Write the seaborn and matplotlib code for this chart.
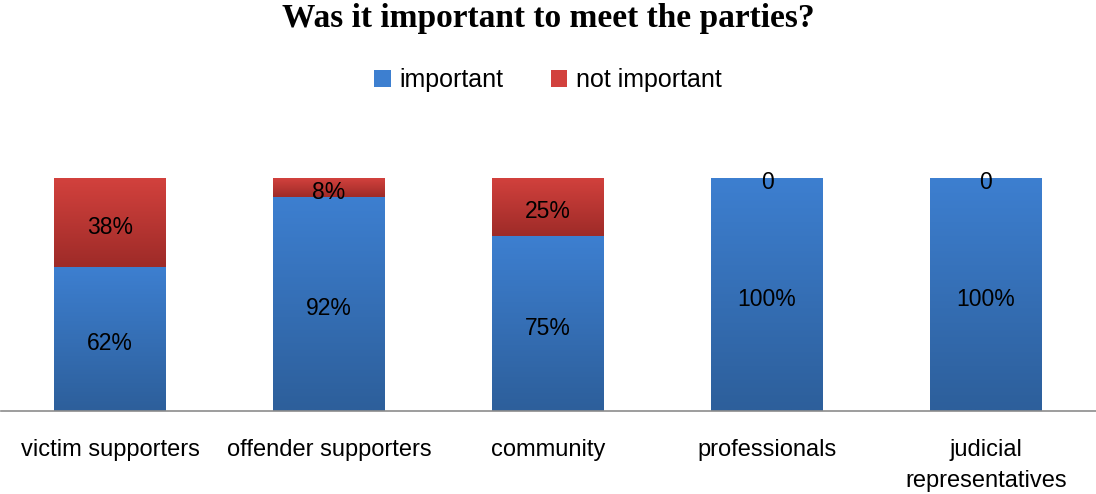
import numpy as np
import pandas as pd
import matplotlib
matplotlib.use("Agg")
import matplotlib.pyplot as plt
import seaborn as sns
from matplotlib.colors import to_rgb
from matplotlib.patches import Patch

categories = ["victim supporters", "offender supporters", "community",
              "professionals", "judicial\nrepresentatives"]
important = [62, 92, 75, 100, 100]
not_important = [38, 8, 25, 0, 0]

blue_top, blue_bot = "#3d7fd0", "#2d5f9b"
red_top, red_bot = "#d2413d", "#9e2b28"

sns.set_theme(style="white")
plt.rcParams["font.family"] = ["Liberation Sans", "DejaVu Sans"]
plt.rcParams["text.color"] = "black"
plt.rcParams["xtick.color"] = "black"

df = pd.DataFrame({"cat": categories, "imp": important, "notimp": not_important})
df["total"] = df["imp"] + df["notimp"]

fig = plt.figure(figsize=(10.96, 4.94), dpi=100)
ax = fig.add_axes([0.5 / 1096, 83 / 494, 1095 / 1096, 233 / 494])

# totals first (red), important on top (blue) -> stacked look
sns.barplot(data=df, x="cat", y="total", color=red_top, width=0.51,
            saturation=1, ax=ax, linewidth=0)
n = len(ax.patches)
sns.barplot(data=df, x="cat", y="imp", color=blue_top, width=0.51,
            saturation=1, ax=ax, linewidth=0)
red_patches = ax.patches[:n]
blue_patches = ax.patches[n:]


def gradient(patch, y0, y1, top, bot):
    if y1 <= y0:
        return
    x0 = patch.get_x()
    w = patch.get_width()
    t = np.linspace(0, 1, 64)[:, None]
    c0, c1 = np.array(to_rgb(bot)), np.array(to_rgb(top))
    img = (c0 + (c1 - c0) * t)[:, None, :].reshape(64, 1, 3)
    im = ax.imshow(img, extent=(x0, x0 + w, y0, y1), origin="lower",
                   aspect="auto", zorder=patch.get_zorder() + 0.5,
                   interpolation="bilinear")
    im.set_clip_path(patch)


def label(x, y, s):
    ax.annotate(s, (x, y), xytext=(0, -3.5), textcoords="offset points",
                ha="center", va="center", fontsize=16.5, color="black",
                zorder=10)


for i, (p_r, p_b) in enumerate(zip(red_patches, blue_patches)):
    gradient(p_r, df["imp"][i], df["total"][i], red_top, red_bot)
    gradient(p_b, 0, df["imp"][i], blue_top, blue_bot)
    xc = p_b.get_x() + p_b.get_width() / 2
    label(xc, df["imp"][i] / 2, f"{important[i]}%")
    v = not_important[i]
    label(xc, df["imp"][i] + v / 2, f"{v}%" if v else "0")

ax.set_xlim(-0.5, 4.5)
ax.set_ylim(0, 100)
ax.set_xlabel("")
ax.set_ylabel("")
ax.set_yticks([])
ax.tick_params(axis="x", length=0, pad=20, labelsize=17)
for lbl in ax.get_xticklabels():
    lbl.set_linespacing(1.55)
for s in ["top", "left", "right"]:
    ax.spines[s].set_visible(False)
ax.spines["bottom"].set_color("#8c8c8c")
ax.spines["bottom"].set_linewidth(1.2)

handles = [Patch(facecolor=blue_top, edgecolor="none", label="important"),
           Patch(facecolor=red_top, edgecolor="none", label="not important")]
fig.legend(handles=handles, loc="center", bbox_to_anchor=(0.5, 1 - 80 / 494),
           ncol=2, frameon=False, fontsize=18, handlelength=0.65,
           handleheight=0.65, handletextpad=0.35, columnspacing=1.9)

fig.text(0.5, 1 - 19 / 494, "Was it important to meet the parties?",
         ha="center", va="center", fontsize=24, fontweight="bold",
         family=["Liberation Serif", "DejaVu Serif"])

fig.savefig("out.png", dpi=100)
